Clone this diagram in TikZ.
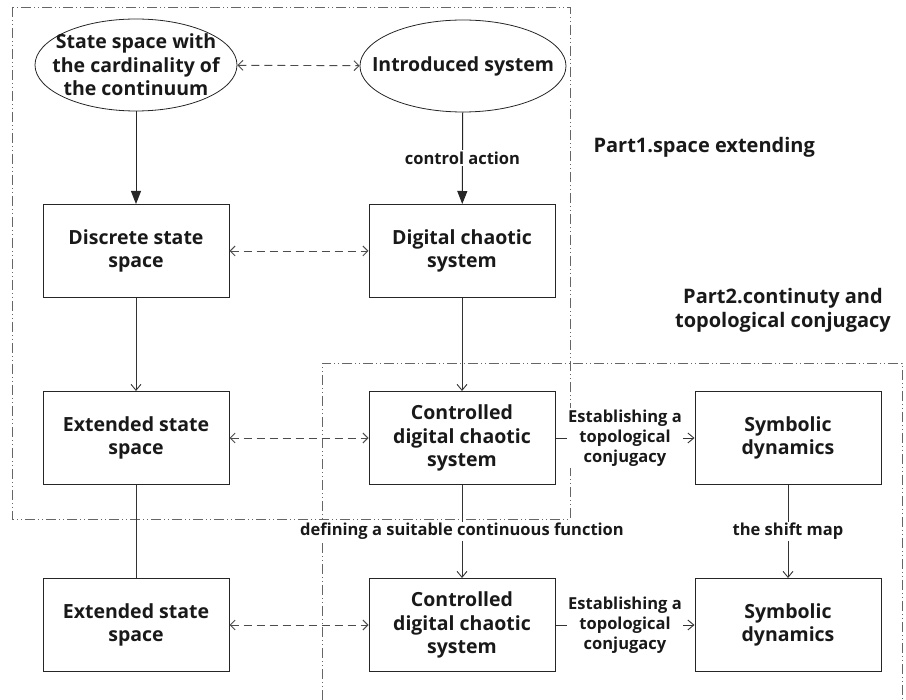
\documentclass[tikz,border=0pt]{standalone}
\usepackage{fontspec}
\setmainfont{Open Sans}
\usetikzlibrary{arrows.meta,positioning,shapes.geometric}

\begin{document}
\begin{tikzpicture}[x=1pt, y=-1pt,
  every node/.style={font=\fontsize{19.5}{23.5}\selectfont\bfseries, text=black!90},
  box/.style={draw=black!85, line width=1pt, minimum width=186pt, minimum height=93pt, align=center, inner sep=0pt},
  ell/.style={draw=black!85, line width=0.8pt, ellipse, minimum width=202pt, minimum height=92pt, inner sep=0pt},
  lbl/.style={fill=white, font=\fontsize{16.5}{20}\selectfont\bfseries, align=center, inner sep=1.5pt},
  frame/.style={draw=black!60, line width=0.9pt, dash pattern=on 10pt off 3pt on 1pt off 3pt on 1pt off 3pt},
  flow/.style={draw=black!80, line width=0.9pt, -{Straight Barb[length=6pt,width=10pt]}},
  heavy/.style={draw=black!85, line width=1pt, -{Triangle[length=13pt,width=10pt]}},
  both/.style={draw=black!70, line width=0.9pt, dash pattern=on 8pt off 5pt, {Straight Barb[length=5pt,width=10pt]}-{Straight Barb[length=5pt,width=10pt]}}]

\useasboundingbox (0,0) rectangle (906,700);

  % the two parts
\draw[frame] (12,7) rectangle (570,519);
\draw[frame] (322,700) |- (902,363) -- (902,700);

  % Define coordinates for nodes
\node[ell] (S) at (136,65) {}; \node[align=center] (St) at (S) {State space with\\the cardinality of\\the continuum};
\node[ell, minimum width=206pt] (I) at (463,66) {}; \node (It) at (I) {Introduced system};
\node[box] (D) at (136,251) {Discrete state\\space}; \node[box] (G) at (462,251) {Digital chaotic\\system};
\node[box] (E) at (136,438) {Extended state\\space}; \node[box] (C) at (462,438) {Controlled\\digital chaotic\\system}; \node[box] (Y) at (788,438) {Symbolic\\dynamics};
\node[box] (E2) at (136,625) {Extended state\\space}; \node[box] (C2) at (462,625) {Controlled\\digital chaotic\\system}; \node[box] (Y2) at (788,625) {Symbolic\\dynamics};
\node[anchor=west, font=\fontsize{20}{23}\selectfont\bfseries] (P1) at (590,147) {Part1.space extending};
\node[align=center, font=\fontsize{20}{24}\selectfont\bfseries] (P2) at (783,310) {Part2.continuty and\\topological conjugacy};

  % Draw arrows between nodes
\draw[heavy] (S) -- (D); \draw[heavy] (I) -- node[lbl] {control action} (G);
\draw[both] (S) -- (I); \draw[both] (D) -- (G); \draw[both] (E) -- (C); \draw[both] (E2) -- (C2);
\draw[flow] (D) -- (E); \draw[flow] (G) -- (C); \draw[draw=black!80, line width=0.9pt] (E) -- (E2);
\draw[flow] (C) -- node[lbl] {defining a suitable continuous function} (C2);
\draw[flow] (Y) -- node[lbl] {the shift map} (Y2);
\draw[flow] (C) -- node[lbl] {Establishing a\\topological\\conjugacy} (Y);
\draw[flow] (C2) -- node[lbl] {Establishing a\\topological\\conjugacy} (Y2);

\end{tikzpicture}
\end{document}
